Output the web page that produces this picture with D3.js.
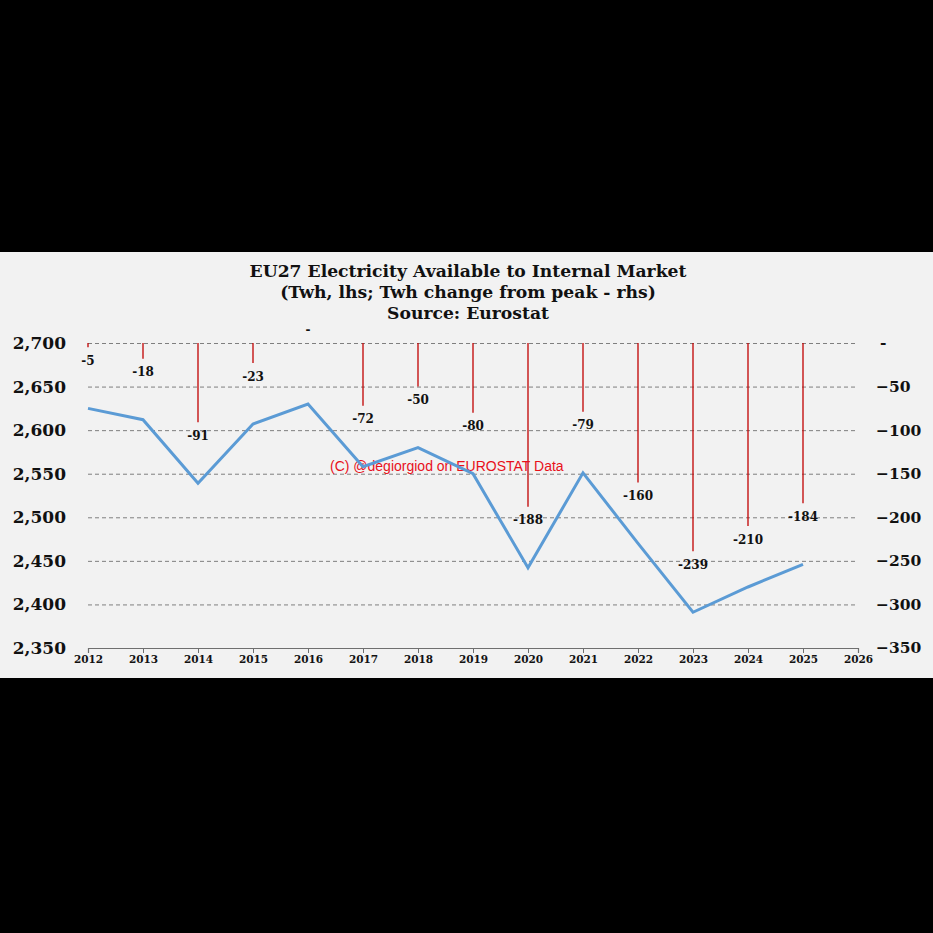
<!DOCTYPE html>
<html>
<head>
<meta charset="utf-8">
<script src="https://cdn.jsdelivr.net/npm/d3@7"></script>
<style>
  html, body { margin: 0; padding: 0; background: #000; }
  svg { display: block; }
</style>
</head>
<body>
<svg id="chart" width="933" height="933"></svg>
<script>
const years = [2012, 2013, 2014, 2015, 2016, 2017, 2018, 2019, 2020, 2021, 2022, 2023, 2024, 2025];
const available = [2625, 2612, 2539, 2607, 2630, 2558, 2580, 2550, 2442, 2551, 2470, 2391, 2420, 2446];
const changeFromPeak = [-5, -18, -91, -23, 0, -72, -50, -80, -188, -79, -160, -239, -210, -184];
const leftTicks = [2350, 2400, 2450, 2500, 2550, 2600, 2650, 2700];
const rightTicks = [-350, -300, -250, -200, -150, -100, -50, 0];
const xTicks = [2012, 2013, 2014, 2015, 2016, 2017, 2018, 2019, 2020, 2021, 2022, 2023, 2024, 2025, 2026];
const titleLines = ["EU27 Electricity Available to Internal Market", "(Twh, lhs; Twh change from peak - rhs)", "Source: Eurostat"];
const watermark = "(C) @degiorgiod on EUROSTAT Data";

const svg = d3.select("#chart");
const serif = "'DejaVu Serif', Georgia, serif";

// panel
svg.append("rect").attr("x", 0).attr("y", 252).attr("width", 933).attr("height", 426).attr("fill", "#f2f2f2");

const x = d3.scaleLinear().domain([2012, 2026]).range([88, 858]);
const yL = d3.scaleLinear().domain([2350, 2700]).range([648, 343]);
const yR = d3.scaleLinear().domain([-350, 0]).range([648, 343]);

// title
svg.append("g").selectAll("text").data(titleLines).join("text")
  .attr("x", 468).attr("y", (d, i) => 277 + i * 21)
  .attr("text-anchor", "middle")
  .attr("font-family", serif).attr("font-weight", "bold").attr("font-size", 17.2)
  .attr("fill", "#111").text(d => d);

// gridlines
svg.append("g").selectAll("line").data(leftTicks.filter(t => t > 2350)).join("line")
  .attr("x1", x(2012)).attr("x2", x(2026))
  .attr("y1", d => yL(d) + 0.5).attr("y2", d => yL(d) + 0.5)
  .attr("stroke", "#7f7f7f").attr("stroke-width", 1).attr("stroke-dasharray", "4,3");

// left axis
const gL = svg.append("g").attr("transform", "translate(88,0)")
  .call(d3.axisLeft(yL).tickValues(leftTicks).tickSize(0).tickPadding(22).tickFormat(d3.format(",")));
gL.select(".domain").remove();
gL.selectAll("text").attr("font-family", serif).attr("font-weight", "bold").attr("font-size", 17).attr("fill", "#111");

// right axis
const gR = svg.append("g").attr("transform", "translate(858,0)")
  .call(d3.axisRight(yR).tickValues(rightTicks).tickSize(0).tickPadding(18).tickFormat(d => d === 0 ? "-" : d3.format(",")(d)));
gR.select(".domain").remove();
gR.selectAll("text").attr("font-family", serif).attr("font-weight", "bold").attr("font-size", 15.5).attr("fill", "#111")
  .attr("dx", d => d === 0 ? 4 : 0);

// x axis
const gX = svg.append("g").attr("transform", "translate(0,648)")
  .call(d3.axisBottom(x).tickValues(xTicks).tickSize(5).tickPadding(3).tickFormat(d3.format("d")));
gX.select(".domain").attr("stroke", "#6f6f6f").attr("stroke-width", 1.2);
gX.selectAll(".tick line").attr("stroke", "#6f6f6f");
gX.selectAll("text").attr("font-family", serif).attr("font-weight", "bold").attr("font-size", 10.5).attr("fill", "#111");

// red change bars
svg.append("g").selectAll("line").data(years).join("line")
  .attr("x1", d => x(d)).attr("x2", d => x(d))
  .attr("y1", yR(0)).attr("y2", (d, i) => yR(changeFromPeak[i]))
  .attr("stroke", "#c00000").attr("stroke-width", 1.3);

// bar labels
svg.append("g").selectAll("text").data(years).join("text")
  .attr("x", d => x(d))
  .attr("y", (d, i) => changeFromPeak[i] === 0 ? yR(0) - 13 : yR(changeFromPeak[i]) + 14)
  .attr("dominant-baseline", "middle").attr("text-anchor", "middle")
  .attr("font-family", serif).attr("font-weight", "bold").attr("font-size", 12).attr("fill", "#111")
  .text((d, i) => changeFromPeak[i] === 0 ? "-" : changeFromPeak[i]);

// watermark
svg.append("text").attr("x", 330).attr("y", 471)
  .attr("font-family", "'Liberation Sans', Arial, sans-serif").attr("font-size", 14)
  .attr("fill", "#e8101a").text(watermark);

// line
const line = d3.line().x((d, i) => x(years[i])).y(d => yL(d));
svg.append("path").datum(available).attr("d", line)
  .attr("fill", "none").attr("stroke", "#5b9bd5").attr("stroke-width", 3).attr("stroke-linejoin", "miter");
</script>
</body>
</html>
